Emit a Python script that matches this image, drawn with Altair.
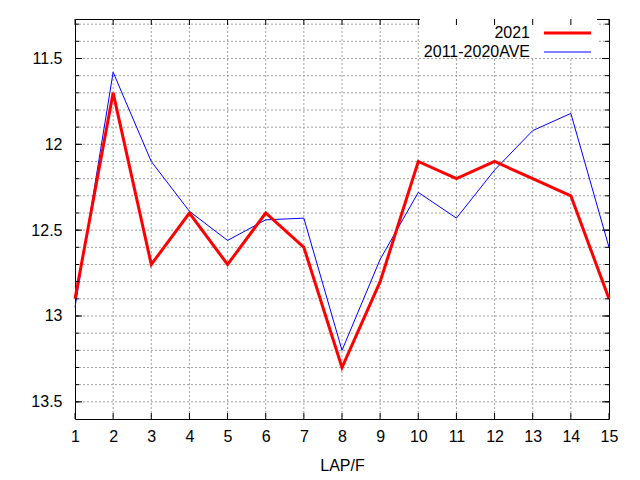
import altair as alt
import pandas as pd

laps = list(range(1, 16))
y2021 = [12.9, 11.7, 12.7, 12.4, 12.7, 12.4, 12.6, 13.3, 12.8, 12.1, 12.2, 12.1, 12.2, 12.3, 12.9]
yave = [12.95, 11.58, 12.1, 12.39, 12.56, 12.44, 12.43, 13.2, 12.67, 12.28, 12.43, 12.15, 11.92, 11.82, 12.6]

series_names = ["2021", "2011-2020AVE"]
x_ticks = list(range(1, 16))
x_grid = list(range(2, 15))
y_major = [11.5, 12.0, 12.5, 13.0, 13.5]
y_minor = [11.3, 11.4, 11.5, 11.6, 11.7, 11.8, 11.9, 12.0, 12.1, 12.2, 12.3, 12.4,
           12.5, 12.6, 12.7, 12.8, 12.9, 13.0, 13.1, 13.2, 13.3, 13.4, 13.5]

W, H = 534, 400
FONT = "Liberation Sans"
FS = 16

df = pd.DataFrame({"lap": laps, "y2021": y2021, "yave": yave})
dx = pd.DataFrame({"v": x_ticks})
dxg = pd.DataFrame({"v": x_grid})
dymaj = pd.DataFrame({"v": y_major})
dymin = pd.DataFrame({"v": y_minor})

xscale = alt.Scale(domain=[1, 15], nice=False, zero=False)
yscale = alt.Scale(domain=[11.27, 13.6], nice=False, zero=False, reverse=True)

xaxis = alt.Axis(values=x_ticks, grid=False, ticks=False, domain=False,
                 labelOverlap=False, labelFlush=False, labelBound=False,
                 labelFont=FONT, labelFontSize=FS, labelColor="black", labelPadding=9,
                 title="LAP/F", titleFont=FONT, titleFontSize=FS, titleFontWeight="normal",
                 titleColor="black", titlePadding=13)
yaxis = alt.Axis(values=y_major, grid=False, ticks=False, domain=False,
                 labelOverlap=False, labelFlush=False, labelBound=False,
                 labelFont=FONT, labelFontSize=FS, labelColor="black", labelPadding=13,
                 labelExpr="format(datum.value, '~g')", title=None)


def X(field):
    return alt.X(field, scale=xscale, axis=xaxis)


def Y(field):
    return alt.Y(field, scale=yscale, axis=yaxis)


grid_color = "#a0a0a0"
grid_dash = [2, 2]

gx = alt.Chart(dxg).mark_rule(color=grid_color, strokeDash=grid_dash, strokeWidth=1).encode(
    x=X("v:Q"), y=alt.value(0), y2=alt.value(H))
gy = alt.Chart(dymin).mark_rule(color=grid_color, strokeDash=grid_dash, strokeWidth=1).encode(
    y=Y("v:Q"), x=alt.value(0), x2=alt.value(W))

legend_bg = alt.Chart(pd.DataFrame({"a": [0]})).mark_rect(color="white").encode(
    x=alt.value(345), x2=alt.value(522), y=alt.value(0), y2=alt.value(38))

l_ave = alt.Chart(df).mark_line(color="blue", strokeWidth=1).encode(
    x=X("lap:Q"), y=Y("yave:Q"))
l_2021 = alt.Chart(df).mark_line(color="red", strokeWidth=3).encode(
    x=X("lap:Q"), y=Y("y2021:Q"))

tick_style = dict(color="black", strokeWidth=1)
tb = alt.Chart(dx).mark_rule(**tick_style).encode(
    x=X("v:Q"), y=alt.value(H), y2=alt.value(H - 6))
tt = alt.Chart(dx).mark_rule(**tick_style).encode(
    x=X("v:Q"), y=alt.value(0), y2=alt.value(6))
tlmin = alt.Chart(dymin).mark_rule(**tick_style).encode(
    y=Y("v:Q"), x=alt.value(0), x2=alt.value(4))
trmin = alt.Chart(dymin).mark_rule(**tick_style).encode(
    y=Y("v:Q"), x=alt.value(W), x2=alt.value(W - 4))
tlmaj = alt.Chart(dymaj).mark_rule(**tick_style).encode(
    y=Y("v:Q"), x=alt.value(0), x2=alt.value(7))
trmaj = alt.Chart(dymaj).mark_rule(**tick_style).encode(
    y=Y("v:Q"), x=alt.value(W), x2=alt.value(W - 7))

one = pd.DataFrame({"a": [0]})
txt1 = alt.Chart(one).mark_text(text=series_names[0], align="right", baseline="middle",
                                font=FONT, fontSize=FS, color="black").encode(
    x=alt.value(455), y=alt.value(14))
txt2 = alt.Chart(one).mark_text(text=series_names[1], align="right", baseline="middle",
                                font=FONT, fontSize=FS, color="black").encode(
    x=alt.value(455), y=alt.value(33))
sw1 = alt.Chart(one).mark_rule(color="red", strokeWidth=3).encode(
    x=alt.value(469), x2=alt.value(516), y=alt.value(14))
sw2 = alt.Chart(one).mark_rule(color="blue", strokeWidth=1).encode(
    x=alt.value(469), x2=alt.value(516), y=alt.value(33))

chart = alt.layer(gx, gy, legend_bg, l_ave, l_2021, tb, tt, tlmin, trmin, tlmaj, trmaj,
                  txt1, txt2, sw1, sw2).properties(
    width=W, height=H,
    autosize=alt.AutoSizeParams(type="none"),
    padding={"left": 67, "top": 11, "right": 23, "bottom": 53},
    background="white",
).configure_view(stroke="black", strokeWidth=1).configure_axis(labelOverlap=False)

chart.save("out.html", embed_options={"renderer": "svg", "actions": False})
